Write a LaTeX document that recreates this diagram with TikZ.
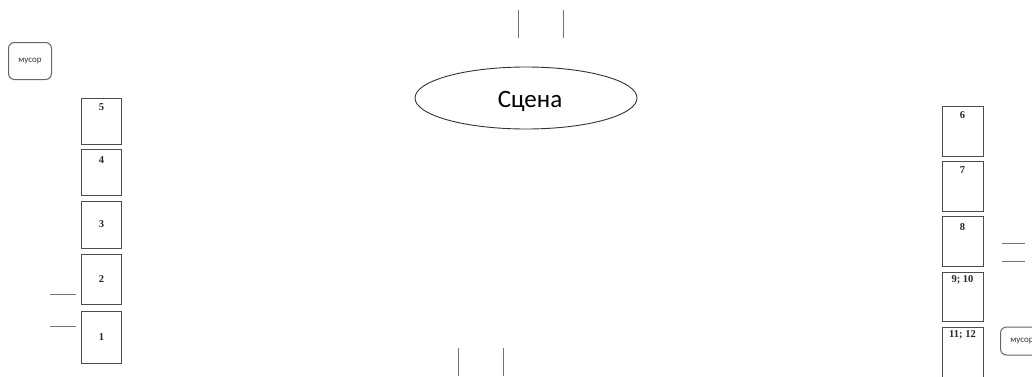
\documentclass[tikz,border=0pt]{standalone}
\usepackage{fontspec}
\usetikzlibrary{shapes.geometric}
\setmainfont{Liberation Serif}
\newfontfamily\calib{Carlito}
\begin{document}
\begin{tikzpicture}[x=1pt,y=-1pt,
  seat/.style={draw=black!70, line width=1pt, minimum width=40pt, inner sep=0pt},
  num/.style={font=\fontsize{10.5}{12}\selectfont\bfseries, text=black!85, inner sep=0pt},
  trash/.style={draw=black!60, line width=1pt, rounded corners=6pt, font=\calib\fontsize{9}{10}\selectfont, text=black!80, minimum width=43pt, minimum height=37pt, inner sep=0pt},
  stub/.style={draw=black!55, line width=1pt}]
\useasboundingbox (0,0) rectangle (1032,376);
% stage
\node[draw=black!80, line width=0.9pt, ellipse, minimum width=222pt, minimum height=62pt, inner sep=0pt] (stage) at (526,98) {};
\node[font=\calib\fontsize{25}{28}\selectfont, inner sep=0pt, anchor=base] (stagetext) at (530,107) {Сцена};
% trash bins
\node[trash] (t1) at (30,61) {мусор};
\node[trash, minimum height=28pt, anchor=west] (t2) at (1000,341) {мусор};
% left boxes
\node[seat, minimum height=46pt] (b5) at (101.5,121) {};
\node[seat, minimum height=46pt] (b4) at (101.5,172) {};
\node[seat, minimum height=47pt] (b3) at (101.5,224.5) {};
\node[seat, minimum height=50pt] (b2) at (101.5,279) {};
\node[seat, minimum height=52pt] (b1) at (101.5,337) {};
\node[num] at (101.5,107) {5};
\node[num] at (101.5,160) {4};
\node[num] at (b3) {3};
\node[num] at (b2) {2};
\node[num] at (b1) {1};
% right boxes
\node[seat, minimum width=41pt, minimum height=50pt] (b6) at (962.5,131) {};
\node[seat, minimum width=41pt, minimum height=50pt] (b7) at (962.5,186) {};
\node[seat, minimum width=41pt, minimum height=50pt] (b8) at (962.5,241) {};
\node[seat, minimum width=41pt, minimum height=49pt] (b9) at (962.5,296.5) {};
\node[seat, minimum width=41pt, minimum height=55pt] (b11) at (962.5,354.5) {};
\node[num] at (962.5,115) {6};
\node[num] at (962.5,170) {7};
\node[num] at (962.5,227) {8};
\node[num] at (962.5,280) {9; 10};
\node[num] at (962.5,335) {11; 12};
% short marks
\draw[stub] (518,10) -- (518,38);
\draw[stub] (563,10) -- (563,38);
\draw[stub] (458,348) -- (458,376);
\draw[stub] (503,348) -- (503,376);
\draw[stub] (50,294) -- (76,294);
\draw[stub] (50,326) -- (76,326);
\draw[stub] (1002,243) -- (1025,243);
\draw[stub] (1002,261) -- (1025,261);
\end{tikzpicture}
\end{document}
